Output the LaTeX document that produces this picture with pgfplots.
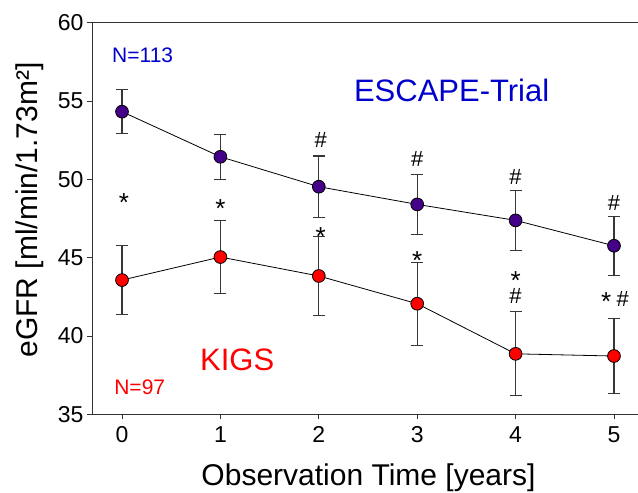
\documentclass[border=0pt]{standalone}
\usepackage{fontspec}
\setmainfont{Liberation Sans}
\usepackage{pgfplots}
\pgfplotsset{compat=1.18}
\definecolor{escape}{RGB}{68,0,136}
\definecolor{nblue}{RGB}{0,0,204}
\definecolor{kred}{RGB}{255,0,0}
\definecolor{errgray}{RGB}{55,55,55}
\begin{document}
\begin{tikzpicture}
\begin{axis}[
  name=ax,
  scale only axis, width=546pt, height=391.6pt,
  xmin=-0.305, xmax=5.244, ymin=35, ymax=60,
  axis x line*=bottom, axis y line*=left,
  axis line style={-, line width=0.9pt, black!80},
  xtick={0,1,2,3,4,5}, ytick={35,40,45,50,55,60},
  tick align=outside, major tick length=5pt,
  tick style={black!80, line width=0.9pt},
  /pgf/number format/assume math mode=true,
  ticklabel style={font=\fontsize{23}{26}\selectfont},
  xticklabel style={yshift=-4pt},
  xlabel={Observation Time [years]},
  ylabel={eGFR [ml/min/1.73m²]},
  xlabel style={at={(axis description cs:0.5064,-0.1813)}, anchor=base, font=\fontsize{30}{34}\selectfont},
  ylabel style={at={(axis description cs:-0.1007,0.522)}, anchor=base, font=\fontsize{30}{34}\selectfont},
  clip=false,
]
\draw[line width=0.9pt, black!80] (rel axis cs:0,1) -- (rel axis cs:1,1);
% ESCAPE-Trial
\addplot[black, line width=0.8pt, mark=*, mark size=6.4pt,
  mark options={fill=escape, draw=black, line width=0.8pt},
  error bars/.cd, y dir=both, y explicit,
  error bar style={errgray, line width=1.1pt},
  error mark options={rotate=90, mark size=6pt, errgray, line width=1.1pt}]
  coordinates {
  (0,54.32) +- (0,1.40)
  (1,51.44) +- (0,1.45)
  (2,49.53) +- (0,1.96)
  (3,48.40) +- (0,1.90)
  (4,47.38) +- (0,1.90)
  (5,45.76) +- (0,1.88)
  };
% KIGS
\addplot[black, line width=0.8pt, mark=*, mark size=6.4pt,
  mark options={fill=kred, draw=black, line width=0.8pt},
  error bars/.cd, y dir=both, y explicit,
  error bar style={errgray, line width=1.1pt},
  error mark options={rotate=90, mark size=6pt, errgray, line width=1.1pt}]
  coordinates {
  (0,43.57) +- (0,2.20)
  (1,45.04) +- (0,2.33)
  (2,43.83) +- (0,2.50)
  (3,42.06) +- (0,2.65)
  (4,38.86) +- (0,2.68)
  (5,38.72) +- (0,2.40)
  };
% annotations (star glyph centred ~0.58em above baseline, hash ~0.35em)
\begin{scope}[star/.style={font=\fontsize{26}{30}\selectfont, inner sep=0pt, anchor=base, yshift=-15pt},
              hash/.style={font=\fontsize{22}{24}\selectfont, inner sep=0pt, anchor=base, yshift=-7.7pt}]
\node[star] at (axis cs:0.02,48.93) {\smash{*}};
\node[star] at (axis cs:1.0,48.55) {\smash{*}};
\node[star] at (axis cs:2.02,46.76) {\smash{*}};
\node[star] at (axis cs:3.0,45.23) {\smash{*}};
\node[star] at (axis cs:4.0,43.93) {\smash{*}};
\node[hash] at (axis cs:4.0,42.55) {\#};
\node[star] at (axis cs:4.92,42.61) {\smash{*}};
\node[hash] at (axis cs:5.09,42.36) {\#};
\node[hash] at (axis cs:2.02,52.51) {\#};
\node[hash] at (axis cs:3.0,51.30) {\#};
\node[hash] at (axis cs:4.0,50.15) {\#};
\node[hash] at (axis cs:5.0,48.49) {\#};
\end{scope}
\node[text=nblue, font=\fontsize{21}{24}\selectfont] at (axis cs:0.21,57.90) {N=113};
\node[text=nblue, font=\fontsize{31}{34}\selectfont] at (axis cs:3.35,55.67) {ESCAPE-Trial};
\node[text=kred, font=\fontsize{31}{34}\selectfont] at (axis cs:1.17,38.5) {KIGS};
\node[text=kred, font=\fontsize{21}{24}\selectfont] at (axis cs:0.18,36.75) {N=97};
\end{axis}
\pgfresetboundingbox
\path[use as bounding box] ([xshift=-92pt,yshift=-78.7pt]ax.south west) rectangle ([yshift=22.7pt]ax.north east);
\end{tikzpicture}
\end{document}
